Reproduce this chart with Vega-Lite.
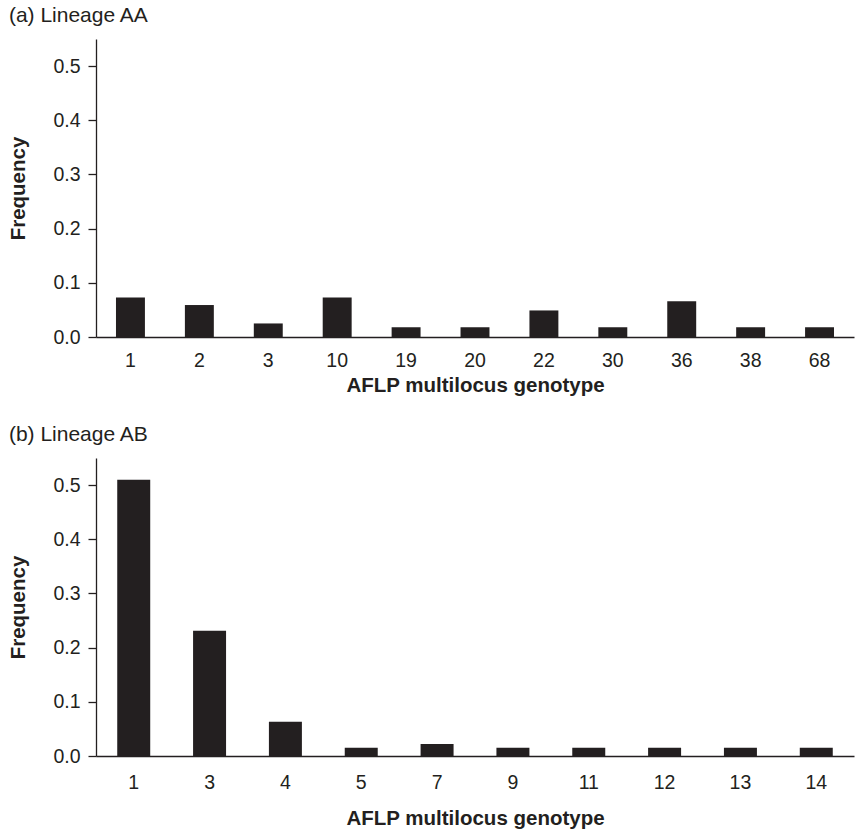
{
  "$schema": "https://vega.github.io/schema/vega-lite/v6.json",
  "padding": {"left": 8, "top": 5, "right": 2, "bottom": 2},
  "background": "white",
  "config": {
    "font": "Liberation Sans",
    "view": {"stroke": null},
    "axis": {
      "labelFont": "Liberation Sans",
      "titleFont": "Liberation Sans",
      "labelColor": "#231f20",
      "titleColor": "#231f20",
      "domainColor": "#231f20",
      "tickColor": "#231f20",
      "domainWidth": 1.3,
      "tickWidth": 1.3,
      "labelFontSize": 19.5,
      "titleFontSize": 20.5,
      "titleFontWeight": "bold",
      "grid": false
    },
    "title": {"font": "Liberation Sans", "fontSize": 21, "fontWeight": "normal", "color": "#231f20", "anchor": "start", "frame": "bounds", "offset": 13}
  },
  "spacing": 28,
  "datasets": {
    "aa": [
      {"genotype": "1", "frequency": 0.073},
      {"genotype": "2", "frequency": 0.059},
      {"genotype": "3", "frequency": 0.025},
      {"genotype": "10", "frequency": 0.073},
      {"genotype": "19", "frequency": 0.018},
      {"genotype": "20", "frequency": 0.018},
      {"genotype": "22", "frequency": 0.049},
      {"genotype": "30", "frequency": 0.018},
      {"genotype": "36", "frequency": 0.066},
      {"genotype": "38", "frequency": 0.018},
      {"genotype": "68", "frequency": 0.018}
    ],
    "ab": [
      {"genotype": "1", "frequency": 0.51},
      {"genotype": "3", "frequency": 0.231},
      {"genotype": "4", "frequency": 0.063},
      {"genotype": "5", "frequency": 0.015},
      {"genotype": "7", "frequency": 0.022},
      {"genotype": "9", "frequency": 0.015},
      {"genotype": "11", "frequency": 0.015},
      {"genotype": "12", "frequency": 0.015},
      {"genotype": "13", "frequency": 0.015},
      {"genotype": "14", "frequency": 0.015}
    ]
  },
  "vconcat": [
    {
      "title": "(a) Lineage AA",
      "width": 758,
      "height": 298,
      "data": {"name": "aa"},
      "mark": {"type": "bar", "color": "#231f20"},
      "encoding": {
        "x": {
          "field": "genotype", "type": "ordinal", "sort": null,
          "scale": {"paddingInner": 0.58, "paddingOuter": 0.29},
          "axis": {"title": "AFLP multilocus genotype", "labelAngle": 0, "ticks": false, "labelPadding": 14, "titlePadding": 6}
        },
        "y": {
          "field": "frequency", "type": "quantitative",
          "scale": {"domain": [0, 0.55], "nice": false},
          "axis": {"title": "Frequency", "values": [0, 0.1, 0.2, 0.3, 0.4, 0.5], "format": ".1f", "tickSize": 8, "labelPadding": 8, "titlePadding": 24}
        }
      }
    },
    {
      "title": "(b) Lineage AB",
      "width": 758,
      "height": 298,
      "data": {"name": "ab"},
      "mark": {"type": "bar", "color": "#231f20"},
      "encoding": {
        "x": {
          "field": "genotype", "type": "ordinal", "sort": null,
          "scale": {"paddingInner": 0.565, "paddingOuter": 0.28},
          "axis": {"title": "AFLP multilocus genotype", "labelAngle": 0, "ticks": false, "labelPadding": 17, "titlePadding": 17}
        },
        "y": {
          "field": "frequency", "type": "quantitative",
          "scale": {"domain": [0, 0.55], "nice": false},
          "axis": {"title": "Frequency", "values": [0, 0.1, 0.2, 0.3, 0.4, 0.5], "format": ".1f", "tickSize": 8, "labelPadding": 8, "titlePadding": 24}
        }
      }
    }
  ]
}
